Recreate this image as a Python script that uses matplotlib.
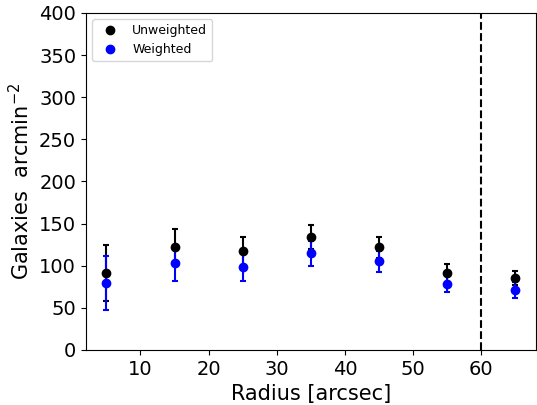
import numpy as np
import matplotlib.pyplot as plt
from matplotlib.lines import Line2D

radius = [5, 15, 25, 35, 45, 55, 65]
unweighted = [91, 122, 117, 134, 122, 91, 85]
unweighted_err = [33, 22, 17, 14.5, 12.5, 10.5, 8.5]
weighted = [79, 103.5, 99, 114.5, 105.5, 78.5, 71]
weighted_err = [32, 21.5, 17, 15, 12.5, 10, 9.5]
r_cut = 60

fig = plt.figure(figsize=(5.37, 4.05), dpi=100)
ax = fig.add_axes([0.16, 0.136, 0.838, 0.832])

ax.errorbar(radius, unweighted, yerr=unweighted_err, fmt='o', color='black',
            markersize=6, elinewidth=1.5, capsize=2, capthick=1.5)
ax.errorbar(radius, weighted, yerr=weighted_err, fmt='o', color='blue',
            markersize=6, elinewidth=1.5, capsize=2, capthick=1.5)
ax.axvline(r_cut, color='black', linestyle='--', linewidth=1.5)

ax.set_xlim(2, 68)
ax.set_ylim(0, 400)
ax.set_xticks([10, 20, 30, 40, 50, 60])
ax.set_yticks(np.arange(0, 401, 50))
ax.tick_params(labelsize=14)
ax.set_xlabel('Radius [arcsec]', fontsize=15)
ax.set_ylabel('Galaxies  arcmin$^{-2}$', fontsize=15)

handles = [Line2D([], [], ls='none', marker='o', color='black', markersize=6),
           Line2D([], [], ls='none', marker='o', color='blue', markersize=6)]
ax.legend(handles, ['Unweighted', 'Weighted'], loc='upper left', fontsize=9,
          borderaxespad=0.5)

fig.savefig('out.png', dpi=100)
